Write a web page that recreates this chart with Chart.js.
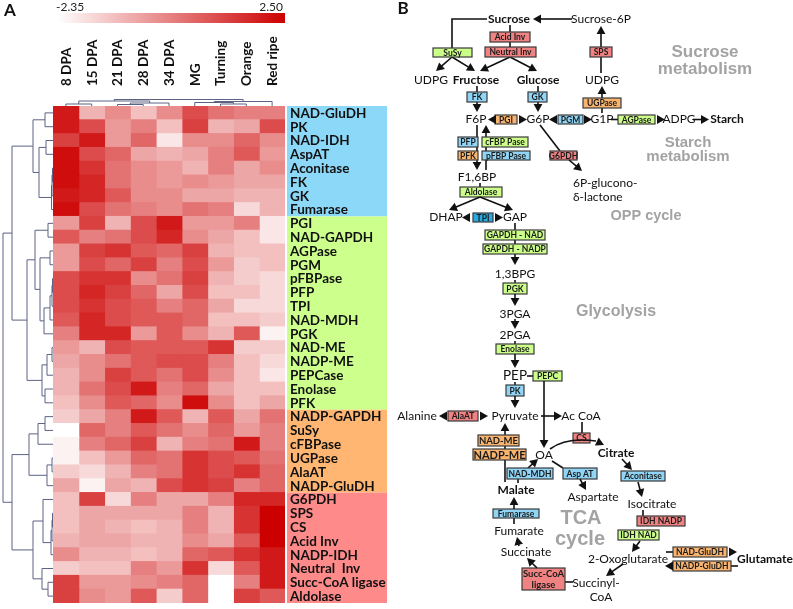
<!DOCTYPE html>
<html>
<head>
<meta charset="utf-8">
<script src="https://cdn.jsdelivr.net/npm/chart.js@4/dist/chart.umd.min.js"></script>
<style>
  html, body { margin: 0; padding: 0; background: #fff; }
  #wrap { position: relative; width: 793px; height: 609px; }
</style>
</head>
<body>
<div id="wrap"><canvas id="heat" width="793" height="609"></canvas></div>
<script>
const stages = ['8 DPA', '15 DPA', '21 DPA', '28 DPA', '34 DPA', 'MG', 'Turning', 'Orange', 'Red ripe'];

const enzymes = [
  'NAD-GluDH', 'PK', 'NAD-IDH', 'AspAT', 'Aconitase', 'FK', 'GK', 'Fumarase',
  'PGI', 'NAD-GAPDH', 'AGPase', 'PGM', 'pFBPase', 'PFP', 'TPI', 'NAD-MDH', 'PGK',
  'NAD-ME', 'NADP-ME', 'PEPCase', 'Enolase', 'PFK',
  'NADP-GAPDH', 'SuSy', 'cFBPase', 'UGPase', 'AlaAT', 'NADP-GluDH',
  'G6PDH', 'SPS', 'CS', 'Acid Inv', 'NADP-IDH', 'Neutral  Inv', 'Succ-CoA ligase', 'Aldolase'
];

// cluster groups (row counts) and their label colours
const groupSizes = [8, 14, 6, 8];
const groupColors = ['#8cd8f8', '#ccff8c', '#ffb672', '#ff8a8a'];

const scaleMin = -2.35;
const scaleMax = 2.50;

// z-scores, one row per enzyme, columns follow stages
const heatRows = [
  [2.02, -0.90, -0.17, -1.14, -0.17, 1.05, 0.32, 0.08, 0.08],
  [2.02, 1.05, -0.41, 0.08, -1.14, 1.29, -0.90, -0.65, 1.05],
  [1.29, 2.02, -0.41, 0.56, -1.87, -0.17, -0.17, 0.56, -0.17],
  [2.26, 1.05, 0.56, -0.65, -0.90, -0.65, 0.08, 0.80, -0.41],
  [2.26, 1.53, 0.32, -0.17, -0.41, -0.90, 0.08, -0.65, -0.17],
  [2.26, 1.77, 0.32, -0.17, -0.41, -0.17, -0.41, -0.65, -0.65],
  [2.02, 1.77, 0.80, -0.17, -0.17, -0.65, -0.65, -0.90, -0.90],
  [2.26, 1.05, 0.32, 0.08, -0.17, 0.32, 0.08, -1.62, -0.90],
  [-0.41, 1.29, -0.90, 1.05, 2.02, -0.41, -0.41, 0.08, -1.87],
  [0.80, 0.08, 0.32, 1.05, 1.77, -0.17, -0.65, -1.14, -1.87],
  [-0.41, 1.29, 1.53, 0.80, 0.56, 1.29, -0.90, -1.14, -1.14],
  [-0.41, 1.05, 0.56, 1.29, 0.08, 1.05, -0.41, -1.38, -1.14],
  [1.05, 1.53, 1.53, -0.17, 0.32, 1.29, -0.90, -1.38, -1.62],
  [1.05, 1.77, 1.29, 0.56, -0.65, 1.05, -1.14, -1.14, -1.62],
  [1.05, 1.53, 1.05, 0.80, 0.08, 0.56, -0.65, -1.62, -1.62],
  [0.80, 1.77, 1.05, 0.80, 0.80, 0.56, -1.14, -1.14, -1.38],
  [0.08, 1.77, 1.77, -0.41, 0.80, -0.17, -0.90, 0.80, -2.11],
  [-0.41, -0.90, 1.05, 0.80, 0.80, 0.80, 1.53, -1.38, -1.38],
  [-0.65, -0.17, 0.32, 0.80, 1.05, 1.05, 0.08, -1.14, -1.62],
  [-0.90, -0.17, 1.29, 0.80, 0.32, 1.05, -0.17, -1.14, -1.87],
  [-0.90, 0.32, 1.05, 2.02, 0.08, 0.56, -0.65, -1.14, -1.14],
  [-1.14, -0.17, 0.80, 0.56, -0.17, 2.26, -0.17, -1.14, -0.65],
  [-1.38, -0.65, 0.08, 2.02, 0.80, -0.90, 0.80, -0.65, 0.32],
  [-2.35, 0.56, 0.08, 0.80, 0.32, -0.17, 0.56, -0.41, 0.08],
  [-2.11, 0.08, 0.56, 1.29, -0.90, 0.08, 0.32, 2.02, 0.08],
  [-2.11, -1.14, -0.41, 0.56, 0.32, 1.53, 1.05, 0.80, 0.32],
  [-1.38, -1.62, -0.90, 0.08, 0.32, 1.53, 1.05, 1.53, 0.56],
  [-0.65, -2.11, -0.65, -0.90, 1.05, 1.53, 1.29, 0.08, 0.56],
  [-1.14, 1.29, -1.62, 0.08, -0.65, -0.65, 0.08, 1.77, 1.77],
  [-1.14, -0.65, -0.65, -0.65, -0.65, 0.08, -0.90, 1.53, 2.50],
  [-1.14, -0.65, -0.90, -1.14, -0.90, 0.08, -0.90, 1.53, 2.50],
  [-0.90, -0.65, -0.65, -0.90, -0.90, -0.17, -0.65, 0.80, 2.50],
  [-0.17, -0.90, -0.90, -1.14, -0.90, 0.56, 0.80, 1.53, 2.02],
  [-1.38, -1.14, -1.14, 0.08, -0.41, 1.53, -1.62, 0.80, 2.02],
  [1.29, -0.41, -0.41, -0.17, 0.08, 0.56, -2.35, 0.08, 2.02],
  [1.29, -0.17, -0.41, 0.80, -1.38, 0.56, -2.35, 1.29, 0.80]
];

// row dendrogram: [left, right, distance]; leaves are row indexes
const blueTree = [[0, 1, 8], [[2, 3, 7], [[[4, 5, 0.5], 6, 1], 7, 1.5], 14], 20];
const greenTree = [[[8, 9, 5], [[10, 11, 3], [[[[12, 13, 0.5], 14, 1], 15, 3], 16, 9], 13], 18],
  [[[17, 18, 1], 19, 6], [20, 21, 8], 11], 26];
const orangeTree = [[[22, 23, 8], 24, 15], [[25, 26, 1], 27, 6], 24];
const pinkTree = [[28, [[[29, 30, 0.5], 31, 1], 32, 2], 10], [33, [34, 35, 5], 11], 20];
const rowTree = [[blueTree, greenTree, 41], [orangeTree, pinkTree, 41], 50];

// column dendrogram over stages
const colTree = [[[0, 1, 2], [[2, 3, 1.5], 4, 3], 5], [[5, [6, 7, 2], 3.5], 8, 4.5], 6.5];

function heatColor(v) {
  const t = Math.max(0, Math.min(1, (v - scaleMin) / (scaleMax - scaleMin)));
  const r = Math.round(255 - t * 50);
  const g = Math.round(255 * (1 - t));
  return `rgb(${r},${g},${g})`;
}

const FONT = 'Lato, "Open Sans", sans-serif';
const TREE_COLOR = '#5c6283';

function drawTree(ctx, node, leafPos, basePos, toPix, horizontal) {
  if (!Array.isArray(node)) return { pos: leafPos(node), h: basePos };
  const a = drawTree(ctx, node[0], leafPos, basePos, toPix, horizontal);
  const b = drawTree(ctx, node[1], leafPos, basePos, toPix, horizontal);
  const h = toPix(node[2]);
  ctx.beginPath();
  if (horizontal) {
    ctx.moveTo(a.h, a.pos); ctx.lineTo(h, a.pos); ctx.lineTo(h, b.pos); ctx.lineTo(b.h, b.pos);
  } else {
    ctx.moveTo(a.pos, a.h); ctx.lineTo(a.pos, h); ctx.lineTo(b.pos, h); ctx.lineTo(b.pos, b.h);
  }
  ctx.stroke();
  return { pos: (a.pos + b.pos) / 2, h };
}

const heatDecor = {
  id: 'heatDecor',
  beforeDatasetsDraw(chart) {
    const { ctx, chartArea, scales } = chart;
    const rowH = (chartArea.bottom - chartArea.top) / enzymes.length;
    ctx.save();

    // group bands behind the row names
    let start = 0;
    groupSizes.forEach((n, g) => {
      const y0 = scales.y.getPixelForValue(start) - rowH / 2;
      const y1 = scales.y.getPixelForValue(start + n - 1) + rowH / 2;
      ctx.fillStyle = groupColors[g];
      ctx.fillRect(chartArea.right + 2, y0, 100, y1 - y0);
      start += n;
    });

    ctx.fillStyle = '#111';
    ctx.font = `bold 13.5px ${FONT}`;
    ctx.textBaseline = 'middle';
    ctx.textAlign = 'left';
    enzymes.forEach((name, i) => {
      ctx.fillText(name, chartArea.right + 5, scales.y.getPixelForValue(i) + 0.5);
    });

    // stage labels, rotated
    stages.forEach((s, j) => {
      ctx.save();
      ctx.translate(scales.x.getPixelForValue(j + 0.5) + 0.5, chartArea.top - 20);
      ctx.rotate(-Math.PI / 2);
      ctx.fillText(s, 0, 0);
      ctx.restore();
    });

    // colour key
    const grad = ctx.createLinearGradient(chartArea.left + 4, 0, chartArea.right, 0);
    grad.addColorStop(0, heatColor(scaleMin));
    grad.addColorStop(0.5, heatColor((scaleMin + scaleMax) / 2));
    grad.addColorStop(1, heatColor(scaleMax));
    ctx.fillStyle = grad;
    ctx.fillRect(chartArea.left + 4, 13, chartArea.right - chartArea.left - 4, 10);
    ctx.fillStyle = '#222';
    ctx.font = `12px ${FONT}`;
    ctx.textBaseline = 'alphabetic';
    ctx.textAlign = 'left';
    ctx.fillText(scaleMin.toFixed(2), chartArea.left + 3, 11);
    ctx.textAlign = 'right';
    ctx.fillText(scaleMax.toFixed(2), chartArea.right - 2, 11);

    // dendrograms
    ctx.strokeStyle = TREE_COLOR;
    ctx.lineWidth = 1;
    drawTree(ctx, rowTree, (i) => scales.y.getPixelForValue(i), chartArea.left,
      (d) => chartArea.left - d, true);
    drawTree(ctx, colTree, (j) => scales.x.getPixelForValue(j + 0.5), chartArea.top,
      (d) => chartArea.top - d, false);

    ctx.fillStyle = '#111';
    ctx.font = `bold 17px ${FONT}`;
    ctx.textAlign = 'left';
    ctx.textBaseline = 'top';
    ctx.fillText('A', 4, 2);
    ctx.restore();
  },
  afterDraw(chart) {
    drawPathway(chart.ctx);
  }
};

// ---------- panel B: metabolic scheme ----------
const GREEN = '#ccff8a', BLUE = '#90d5f5', ORANGE = '#f9b46f', PINK = '#f08282', TPIBLUE = '#2aa8e0';

function drawPathway(ctx) {
  ctx.save();
  ctx.lineWidth = 1.6;
  ctx.strokeStyle = '#111';

  const line = (...pts) => {
    ctx.beginPath();
    ctx.moveTo(pts[0], pts[1]);
    for (let k = 2; k < pts.length; k += 2) ctx.lineTo(pts[k], pts[k + 1]);
    ctx.stroke();
  };
  const head = (x, y, ang, s = 8) => {
    ctx.fillStyle = '#111';
    ctx.beginPath();
    ctx.moveTo(x, y);
    ctx.lineTo(x - s * Math.cos(ang) + s * 0.55 * Math.sin(ang), y - s * Math.sin(ang) - s * 0.55 * Math.cos(ang));
    ctx.lineTo(x - s * Math.cos(ang) - s * 0.55 * Math.sin(ang), y - s * Math.sin(ang) + s * 0.55 * Math.cos(ang));
    ctx.closePath();
    ctx.fill();
  };
  const arrow = (x1, y1, x2, y2, s = 8) => {
    const ang = Math.atan2(y2 - y1, x2 - x1);
    line(x1, y1, x2 - (s - 1) * Math.cos(ang), y2 - (s - 1) * Math.sin(ang));
    head(x2, y2, ang, s);
  };
  const text = (s, x, y, opt = {}) => {
    ctx.font = `${opt.bold ? 'bold ' : ''}${opt.size || 12}px ${opt.family || FONT}`;
    ctx.fillStyle = opt.color || '#111';
    ctx.textAlign = opt.align || 'center';
    ctx.textBaseline = 'middle';
    ctx.fillText(s, x, y);
  };
  const box = (label, x1, y1, x2, y2, fill, size = 8.5) => {
    ctx.fillStyle = fill;
    ctx.fillRect(x1, y1, x2 - x1, y2 - y1);
    ctx.lineWidth = 1.2;
    ctx.strokeStyle = '#3a3a3a';
    ctx.strokeRect(x1, y1, x2 - x1, y2 - y1);
    ctx.lineWidth = 1.6;
    ctx.strokeStyle = '#111';
    const parts = label.split('\n');
    parts.forEach((p, k) => {
      text(p, (x1 + x2) / 2, (y1 + y2) / 2 + (k - (parts.length - 1) / 2) * (size + 2) + 0.5,
        { bold: true, size, color: '#1a1a1a' });
    });
  };
  const gray = (s, x, y, size) => text(s, x, y, { bold: true, size, color: '#a3a3a3', family: '"Liberation Sans", Arial, sans-serif' });

  text('B', 403, 9, { bold: true, size: 17 });

  // sucrose metabolism
  arrow(572, 19, 533, 19);
  line(487, 19, 452, 19, 452, 48);
  arrow(452, 57, 436, 71);
  arrow(452, 57, 475, 71);
  line(510, 25, 510, 32);
  line(510, 42, 510, 47);
  arrow(510, 57, 480, 71);
  arrow(510, 57, 537, 71);
  line(601, 73, 601, 57);
  arrow(601, 47, 601, 26);
  line(602, 113, 602, 108);
  arrow(602, 98, 602, 86);
  line(477, 86, 477, 92);
  arrow(477, 102, 477, 112);
  line(538, 86, 538, 92);
  arrow(538, 102, 538, 112);

  box('SuSy', 433, 48, 472, 57, GREEN);
  box('Acid Inv', 490, 32, 530, 42, PINK);
  box('Neutral Inv', 485, 47, 536, 57, PINK);
  box('SPS', 590, 47, 612, 57, PINK);
  box('UGPase', 583, 98, 621, 108, ORANGE);
  box('FK', 467, 92, 487, 102, BLUE);
  box('GK', 528, 92, 547, 102, BLUE);

  text('Sucrose', 509, 19, { bold: true });
  text('Sucrose-6P', 601, 19);
  text('UDPG', 431, 80);
  text('Fructose', 476, 80, { bold: true });
  text('Glucose', 538, 80, { bold: true });
  text('UDPG', 602, 80);
  gray('Sucrose', 705, 52, 17);
  gray('metabolism', 705, 69, 17);

  // hexose phosphates and starch
  box('PGI', 495, 115, 517, 124, ORANGE);
  head(488, 119.5, Math.PI);
  head(527, 119.5, 0);
  box('PGM', 558, 115, 583, 124, BLUE);
  head(549, 119.5, Math.PI);
  head(592, 119.5, 0);
  line(611, 119.5, 618, 119.5);
  box('AGPase', 618, 115, 655, 124, GREEN);
  head(665, 119.5, 0);
  arrow(693, 119.5, 709, 119.5);
  text('F6P', 476, 119);
  text('G6P', 538, 119);
  text('G1P', 602, 119);
  text('ADPG', 679, 119);
  text('Starch', 727, 119, { bold: true });

  line(477, 125, 477, 137);
  line(477, 147, 477, 151);
  arrow(477, 160, 477, 170);
  arrow(486, 137, 486, 125);
  line(486, 147, 486, 151);
  line(486, 160, 486, 170);
  box('PFP', 458, 137, 478, 147, BLUE);
  box('cFBP Pase', 482, 137, 528, 147, GREEN);
  box('PFK', 458, 151, 478, 160, ORANGE);
  box('pFBP Pase', 482, 151, 530, 160, BLUE);

  line(540, 125, 560, 151);
  box('G6PDH', 550, 151, 577, 160, PINK);
  arrow(569, 160, 582, 171);
  text('6P-glucono-', 573, 183, { align: 'left' });
  text('δ-lactone', 573, 197, { align: 'left' });
  gray('Starch', 688, 143, 15);
  gray('metabolism', 688, 157, 15);

  // glycolysis
  text('F1,6BP', 477, 177);
  line(480, 183, 480, 187);
  box('Aldolase', 460, 187, 502, 197, GREEN);
  arrow(480, 197, 449, 210);
  arrow(480, 197, 513, 210);
  text('DHAP', 446, 217);
  text('GAP', 515, 217);
  box('TPI', 473, 213, 493, 222, TPIBLUE);
  head(462, 217.5, Math.PI);
  head(503, 217.5, 0);
  gray('OPP cycle', 646, 216, 14.5);

  line(515, 223, 515, 230);
  line(515, 240, 515, 244);
  arrow(515, 254, 515, 265);
  box('GAPDH - NAD', 485, 230, 545, 240, GREEN);
  box('GAPDH - NADP', 483, 244, 547, 254, GREEN);
  text('1,3BPG', 515, 274);
  line(515, 280, 515, 283);
  box('PGK', 503, 283, 527, 294, GREEN);
  arrow(515, 294, 515, 306);
  text('3PGA', 515, 314);
  gray('Glycolysis', 616, 312, 16);
  arrow(515, 319, 515, 329);
  text('2PGA', 515, 335);
  line(515, 341, 515, 344);
  box('Enolase', 496, 344, 534, 354, GREEN);
  arrow(515, 354, 515, 368);
  text('PEP', 515, 376, { size: 13.5 });
  line(527, 376, 533, 376);
  box('PEPC', 533, 371, 562, 381, GREEN);
  arrow(544, 381, 544, 448);
  line(515, 382, 515, 385);
  box('PK', 506, 385, 524, 396, BLUE);
  arrow(515, 396, 515, 408);

  text('Alanine', 417, 416);
  box('AlaAT', 448, 411, 478, 421, PINK);
  head(439, 416, Math.PI);
  head(488, 416, 0);
  text('Pyruvate', 515, 416);
  arrow(541, 416, 562, 416);
  text('Ac CoA', 581, 416);

  // TCA cycle
  line(582, 422, 582, 433);
  box('CS', 573, 433, 590, 443, PINK);
  ctx.beginPath();
  ctx.moveTo(550, 449);
  ctx.quadraticCurveTo(566, 437, 596, 441);
  ctx.stroke();
  head(604, 445, 0.45);
  text('Citrate', 616, 453, { bold: true });
  text('OA', 544, 455);

  arrow(505, 435, 505, 423);
  line(505, 446, 505, 449);
  line(505, 460, 505, 482);
  box('NAD-ME', 478, 435, 519, 446, ORANGE, 9.5);
  box('NADP-ME', 473, 449, 526, 460, ORANGE, 11);

  line(518, 483, 518, 479);
  arrow(528, 468, 538, 459);
  box('NAD-MDH', 507, 468, 553, 479, BLUE);
  text('Malate', 516, 490, { bold: true });
  line(552, 461, 563, 468);
  box('Asp AT', 563, 468, 597, 479, BLUE);
  arrow(580, 479, 586, 490);
  text('Aspartate', 593, 497);

  arrow(622, 459, 632, 470);
  box('Aconitase', 621, 471, 665, 481, BLUE);
  arrow(638, 482, 642, 497);
  text('Isocitrate', 652, 504);
  line(643, 510, 643, 516);
  box('IDH NADP', 637, 516, 685, 526, PINK);
  box('IDH NAD', 618, 530, 659, 540, GREEN);
  arrow(640, 541, 632, 552);
  text('2-Oxoglutarate', 628, 559);

  line(666, 552, 673, 552);
  box('NAD-GluDH', 673, 547, 727, 557, ORANGE);
  head(737, 552, 0);
  line(738, 566, 731, 566);
  box('NADP-GluDH', 673, 561, 731, 571, ORANGE);
  head(665, 566, Math.PI);
  text('Glutamate', 765, 559, { bold: true });

  arrow(623, 564, 606, 576);
  text('Succinyl-', 596, 583);
  text('CoA', 601, 597);
  line(573, 582, 565, 582);
  box('Succ-CoA\nligase', 522, 568, 565, 590, PINK, 9.5);
  arrow(537, 568, 527, 558);
  text('Succinate', 526, 552);
  arrow(519, 546, 517, 537);
  text('Fumarate', 519, 531);
  line(514, 524, 514, 518);
  box('Fumarase', 493, 509, 539, 518, BLUE);
  arrow(514, 509, 514, 497);

  gray('TCA', 581, 518, 20);
  gray('cycle', 580, 539, 20);
  ctx.restore();
}

const datasets = stages.map((stage, j) => ({
  label: stage,
  data: enzymes.map(() => 1),
  backgroundColor: heatRows.map((row) => heatColor(row[j])),
  borderWidth: 0,
  barPercentage: 1,
  categoryPercentage: 1,
  inflateAmount: 0.5
}));

new Chart(document.getElementById('heat'), {
  type: 'bar',
  data: { labels: enzymes, datasets },
  options: {
    indexAxis: 'y',
    responsive: false,
    devicePixelRatio: 1,
    animation: false,
    layout: { padding: { left: 53, top: 106, right: 508, bottom: 6 } },
    plugins: { legend: { display: false }, tooltip: { enabled: false } },
    scales: {
      x: { stacked: true, display: false, min: 0, max: stages.length },
      y: { stacked: true, display: false }
    }
  },
  plugins: [heatDecor]
});
</script>
</body>
</html>
